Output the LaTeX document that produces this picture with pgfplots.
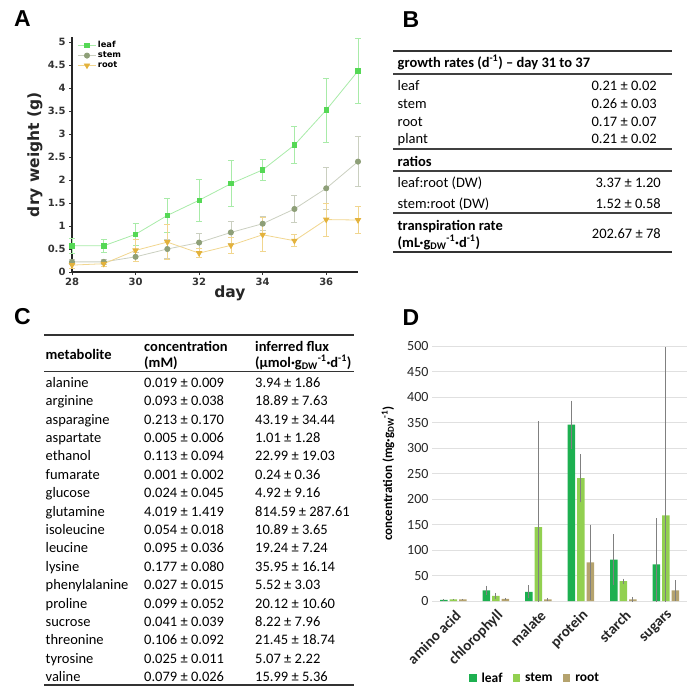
\documentclass[border=0pt]{standalone}
\usepackage{fontspec}
\setmainfont{Carlito}
\newfontfamily\dejavu{DejaVu Sans}
\newfontfamily\arialf{Liberation Sans}
\usepackage{pgfplots}
\pgfplotsset{compat=1.18}
\usepackage{pgfplotstable}
\definecolor{leafA}{HTML}{55D855}
\definecolor{leafAl}{HTML}{A8EBA8}
\definecolor{stemA}{HTML}{8E9F78}
\definecolor{stemAl}{HTML}{CACFC0}
\definecolor{rootA}{HTML}{E3B23C}
\definecolor{rootAl}{HTML}{F1D68F}
\definecolor{leafD}{HTML}{1DB050}
\definecolor{stemD}{HTML}{92D050}
\definecolor{rootD}{HTML}{B5A36E}

\pgfplotstableread{
x y e
28 0.57 0.17
29 0.57 0.15
30 0.82 0.24
31 1.23 0.37
32 1.56 0.46
33 1.92 0.50
34 2.22 0.23
35 2.76 0.40
36 3.52 0.70
37 4.37 0.71
}\leafA
\pgfplotstableread{
x y e
28 0.22 0.05
29 0.22 0.05
30 0.33 0.10
31 0.50 0.20
32 0.64 0.20
33 0.86 0.24
34 1.05 0.15
35 1.37 0.29
36 1.82 0.46
37 2.40 0.54
}\stemA
\pgfplotstableread{
x y e
28 0.15 0.06
29 0.18 0.05
30 0.47 0.24
31 0.65 0.38
32 0.41 0.10
33 0.58 0.17
34 0.81 0.37
35 0.68 0.13
36 1.14 0.36
37 1.13 0.29
}\rootA
\pgfplotstableread{
x y e
0 2 1
1 21 9
2 18 13
3 346 47
4 81 50
5 72 90
}\leafD
\pgfplotstableread{
x y e
0 3 1
1 10 6
2 145 207
3 241 47
4 39 5
5 168 330
}\stemD
\pgfplotstableread{
x y e
0 3 1
1 4 2
2 3 3
3 76 74
4 3 5
5 21 20
}\rootD

\begin{document}
\begin{tikzpicture}
\path[use as bounding box] (0pt,0pt) rectangle (700pt,-694pt);

% panel letters
\node[font=\arialf\bfseries\fontsize{23}{23}\selectfont] at (22.5pt,-18.5pt) {A};
\node[font=\arialf\bfseries\fontsize{23}{23}\selectfont] at (411pt,-19.5pt) {B};
\node[font=\arialf\bfseries\fontsize{23}{23}\selectfont] at (22.5pt,-317pt) {C};
\node[font=\arialf\bfseries\fontsize{23}{23}\selectfont] at (411pt,-318pt) {D};

% ---------------- Panel A
\begin{axis}[at={(72pt,-272pt)}, anchor=south west, scale only axis,
  width=286pt, height=234.6pt,
  xmin=28, xmax=37, ymin=0, ymax=5.1,
  axis x line*=bottom, axis y line*=left,
  axis line style={line width=1.1pt, color=black!85, -},
  xtick={28,30,32,34,36},
  ytick={0,0.5,1,1.5,2,2.5,3,3.5,4,4.5,5},
  yticklabels={0,0.5,1,1.5,2,2.5,3,3.5,4,4.5,5},
  tick align=outside, major tick length=3pt,
  tick style={black!80, line width=0.8pt},
  ticklabel style={font=\dejavu\bfseries\fontsize{10}{11}\selectfont, color=black!80},
  /pgf/number format/assume math mode=true,
  every axis y label/.style={at={(axis description cs:-0.13,0.5)}, rotate=90, anchor=center},
  every axis x label/.style={at={(axis description cs:0.552,-0.09)}, anchor=center},
  ylabel={dry weight (g)}, xlabel={day},
  label style={font=\dejavu\bfseries\fontsize{15.5}{16}\selectfont, color=black!85},
  legend style={draw=none, fill=none, at={(axis description cs:0.01,1.0)}, anchor=north west,
    font=\dejavu\bfseries\fontsize{8.3}{9}\selectfont, row sep=-1.5pt},
  legend cell align=left,
  clip=false,
]
\addplot[color=leafAl, line width=0.8pt, mark=square*, mark size=2.2pt,
  mark options={fill=leafA, draw=leafA},
  error bars/.cd, y dir=both, y explicit,
  error bar style={color=leafAl, line width=0.7pt},
  error mark options={color=leafAl, line width=0.7pt, mark size=3pt, rotate=90}]
  table[x=x, y=y, y error=e] {\leafA};
\addlegendentry{leaf}
\addplot[color=stemAl, line width=0.8pt, mark=*, mark size=2.6pt,
  mark options={fill=stemA, draw=stemA},
  error bars/.cd, y dir=both, y explicit,
  error bar style={color=stemAl, line width=0.7pt},
  error mark options={color=stemAl, line width=0.7pt, mark size=3pt, rotate=90}]
  table[x=x, y=y, y error=e] {\stemA};
\addlegendentry{stem}
\addplot[color=rootAl, line width=0.8pt, mark=triangle*, mark size=3pt,
  mark options={fill=rootA, draw=rootA, rotate=180},
  error bars/.cd, y dir=both, y explicit,
  error bar style={color=rootAl, line width=0.7pt},
  error mark options={color=rootAl, line width=0.7pt, mark size=3pt, rotate=90}]
  table[x=x, y=y, y error=e] {\rootA};
\addlegendentry{root}
\end{axis}

% ---------------- Panel B (table)
\begin{scope}[every node/.style={font=\fontsize{14.5}{16}\selectfont, inner sep=0pt}]
\draw[line width=1.4pt, black!80] (393pt,-51pt) -- (672pt,-51pt);
\draw[line width=1.1pt, black!75] (393pt,-74pt) -- (672pt,-74pt);
\draw[line width=1.1pt, black!75] (393pt,-149pt) -- (672pt,-149pt);
\draw[line width=1.1pt, black!75] (393pt,-171pt) -- (672pt,-171pt);
\draw[line width=1.1pt, black!75] (393pt,-213pt) -- (672pt,-213pt);
\draw[line width=1.6pt, black!80] (393pt,-252pt) -- (672pt,-252pt);
\node[anchor=base west, font=\bfseries\fontsize{14.5}{16}\selectfont] at (397.5pt,-67pt) {growth rates (d\textsuperscript{-1}) -- day 31 to 37};
\node[anchor=base west] at (397.5pt,-90.5pt) {leaf};
\node[anchor=base west] at (397.5pt,-108.5pt) {stem};
\node[anchor=base west] at (397.5pt,-126pt) {root};
\node[anchor=base west] at (397.5pt,-143pt) {plant};
\node[anchor=base east] at (657pt,-90.5pt) {0.21 ± 0.02};
\node[anchor=base east] at (657pt,-108.5pt) {0.26 ± 0.03};
\node[anchor=base east] at (657pt,-126pt) {0.17 ± 0.07};
\node[anchor=base east] at (657pt,-143pt) {0.21 ± 0.02};
\node[anchor=base west, font=\bfseries\fontsize{14.5}{16}\selectfont] at (397.5pt,-166pt) {ratios};
\node[anchor=base west] at (397.5pt,-187.5pt) {leaf:root (DW)};
\node[anchor=base west] at (397.5pt,-208.5pt) {stem:root (DW)};
\node[anchor=base east] at (661pt,-187.5pt) {3.37 ± 1.20};
\node[anchor=base east] at (661pt,-208.5pt) {1.52 ± 0.58};
\node[anchor=base west, font=\bfseries\fontsize{14.5}{16}\selectfont] at (397.5pt,-230pt) {transpiration rate};
\node[anchor=base west, font=\bfseries\fontsize{14.5}{16}\selectfont] at (397.5pt,-247pt) {(mL·g\textsubscript{DW}\textsuperscript{-1}·d\textsuperscript{-1})};
\node[anchor=base east] at (661pt,-238pt) {202.67 ± 78};
\end{scope}

% ---------------- Panel C (table)
\begin{scope}[every node/.style={font=\fontsize{14.5}{16}\selectfont, inner sep=0pt, anchor=base west}]
\draw[line width=1.2pt, black!80] (44pt,-335pt) -- (354pt,-335pt);
\draw[line width=0.9pt, black!80] (44pt,-371pt) -- (354pt,-371pt);
\draw[line width=1.2pt, black!80] (44pt,-685pt) -- (354pt,-685pt);
\node[font=\bfseries\fontsize{14.5}{16}\selectfont] at (45.5pt,-359.5pt) {metabolite};
\node[font=\bfseries\fontsize{14.5}{16}\selectfont] at (144pt,-351pt) {concentration};
\node[font=\bfseries\fontsize{14.5}{16}\selectfont] at (144pt,-367pt) {(mM)};
\node[font=\bfseries\fontsize{14.5}{16}\selectfont] at (255pt,-351pt) {inferred flux};
\node[font=\bfseries\fontsize{14.5}{16}\selectfont] at (255pt,-367pt) {(µmol·g\textsubscript{DW}\textsuperscript{-1}·d\textsuperscript{-1})};
\foreach \n/\c/\f [count=\i from 0] in {
  alanine/0.019 ± 0.009/3.94 ± 1.86,
  arginine/0.093 ± 0.038/18.89 ± 7.63,
  asparagine/0.213 ± 0.170/43.19 ± 34.44,
  aspartate/0.005 ± 0.006/1.01 ± 1.28,
  ethanol/0.113 ± 0.094/22.99 ± 19.03,
  fumarate/0.001 ± 0.002/0.24 ± 0.36,
  glucose/0.024 ± 0.045/4.92 ± 9.16,
  glutamine/4.019 ± 1.419/814.59 ± 287.61,
  isoleucine/0.054 ± 0.018/10.89 ± 3.65,
  leucine/0.095 ± 0.036/19.24 ± 7.24,
  lysine/0.177 ± 0.080/35.95 ± 16.14,
  phenylalanine/0.027 ± 0.015/5.52 ± 3.03,
  proline/0.099 ± 0.052/20.12 ± 10.60,
  sucrose/0.041 ± 0.039/8.22 ± 7.96,
  threonine/0.106 ± 0.092/21.45 ± 18.74,
  tyrosine/0.025 ± 0.011/5.07 ± 2.22,
  valine/0.079 ± 0.026/15.99 ± 5.36} {
  \node at (45.5pt,{-387.3pt-\i*18.4pt}) {\n};
  \node at (144pt,{-387.3pt-\i*18.4pt}) {\c};
  \node at (255pt,{-387.3pt-\i*18.4pt}) {\f};
}
\end{scope}

% ---------------- Panel D
\begin{axis}[at={(432pt,-601pt)}, anchor=south west, scale only axis,
  width=255pt, height=255pt,
  xmin=-0.5, xmax=5.5, ymin=0, ymax=500,
  ybar=2pt, bar width=7.5pt,
  xtick={0,1,2,3,4,5},
  xticklabels={amino acid,chlorophyll,malate,protein,starch,sugars},
  /pgf/number format/assume math mode=true,
  x tick label style={xshift=5pt, yshift=-12pt, rotate=45, anchor=east, inner sep=0pt,
    font=\bfseries\fontsize{15}{16}\selectfont, color=black!85},
  ytick={0,50,...,500},
  y tick label style={font=\fontsize{14}{15}\selectfont, color=black!85},
  ymajorgrids, grid style={black!12, line width=0.6pt},
  axis line style={draw=none}, major tick length=0pt,
  every axis y label/.style={at={(axis description cs:-0.1725,0.5)}, rotate=90, anchor=center},
  ylabel={concentration (mg·g\textsubscript{DW}\textsuperscript{-1})},
  label style={font=\bfseries\fontsize{13}{14}\selectfont},
  legend style={draw=none, fill=none, at={(axis description cs:0.404,-0.302)}, anchor=center,
    font=\bfseries\fontsize{13.5}{14}\selectfont, column sep=3pt},
  legend columns=3,
  legend image code/.code={\fill[#1] (0pt,-3.8pt) rectangle (7.6pt,3.8pt);},
  /tikz/every even column/.append style={column sep=8pt},
]
\addplot[fill=leafD, draw=none,
  error bars/.cd, y dir=both, y explicit, error mark=none,
  error bar style={black!50, line width=0.6pt}]
  table[x=x, y=y, y error=e] {\leafD};
\addlegendentry{leaf}
\addplot[fill=stemD, draw=none,
  error bars/.cd, y dir=both, y explicit, error mark=none,
  error bar style={black!50, line width=0.6pt}]
  table[x=x, y=y, y error=e] {\stemD};
\addlegendentry{stem}
\addplot[fill=rootD, draw=none,
  error bars/.cd, y dir=both, y explicit, error mark=none,
  error bar style={black!50, line width=0.6pt}]
  table[x=x, y=y, y error=e] {\rootD};
\addlegendentry{root}
\end{axis}
\end{tikzpicture}
\end{document}
